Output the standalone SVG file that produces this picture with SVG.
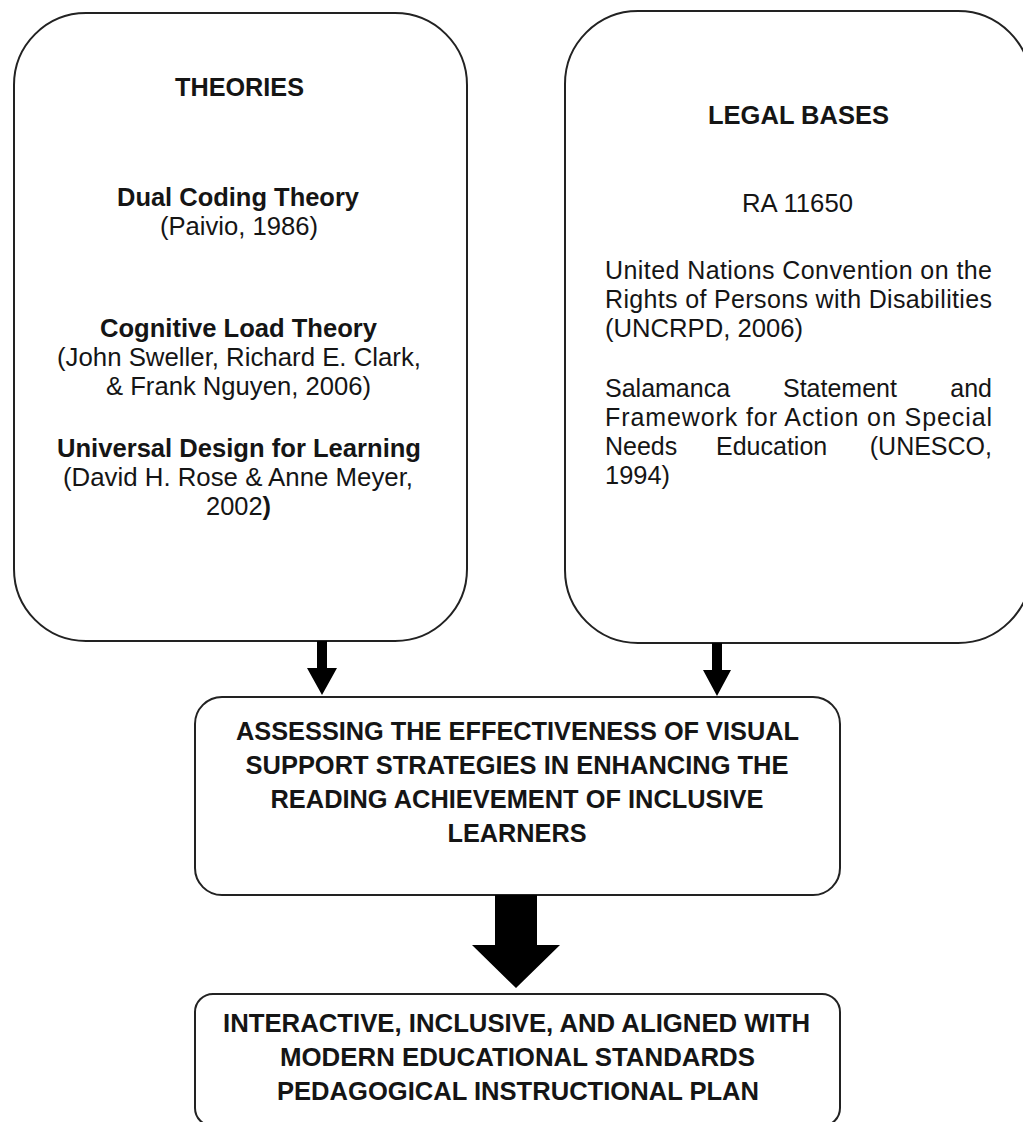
<svg xmlns="http://www.w3.org/2000/svg" width="1023" height="1122" viewBox="0 0 1023 1122">
  <style>
    .box { fill: #ffffff; stroke: #222222; stroke-width: 2; }
    .t { font-family: "Liberation Sans", Arial, sans-serif; font-size: 25px; fill: #151515; }
    .b { font-weight: bold; }
    .c { text-anchor: middle; }
    .e { text-anchor: end; }
    .arrow { fill: #000000; stroke: none; }
  </style>
  <rect width="1023" height="1122" fill="#ffffff"/>

  <g id="theories">
    <rect class="box" x="14" y="13" width="453" height="628" rx="72" ry="72"/>
    <text class="t b c" x="239.5" y="96" textLength="129" lengthAdjust="spacingAndGlyphs">THEORIES</text>
    <text class="t b c" x="238" y="206" textLength="242" lengthAdjust="spacingAndGlyphs">Dual Coding Theory</text>
    <text class="t c" x="239" y="235" textLength="158" lengthAdjust="spacingAndGlyphs">(Paivio, 1986)</text>
    <text class="t b c" x="238.5" y="337" textLength="277" lengthAdjust="spacingAndGlyphs">Cognitive Load Theory</text>
    <text class="t c" x="239" y="366" textLength="364" lengthAdjust="spacingAndGlyphs">(John Sweller, Richard E. Clark,</text>
    <text class="t c" x="238.5" y="395" textLength="265" lengthAdjust="spacingAndGlyphs">&amp; Frank Nguyen, 2006)</text>
    <text class="t b c" x="239" y="457" textLength="364" lengthAdjust="spacingAndGlyphs">Universal Design for Learning</text>
    <text class="t c" x="238" y="486" textLength="350" lengthAdjust="spacingAndGlyphs">(David H. Rose &amp; Anne Meyer,</text>
    <text class="t c" x="238.5" y="515" textLength="65" lengthAdjust="spacingAndGlyphs">2002<tspan class="b">)</tspan></text>
  </g>

  <g id="legal-bases">
    <rect class="box" x="565" y="11" width="466" height="632" rx="73" ry="73"/>
    <text class="t b c" x="798.5" y="124" textLength="181" lengthAdjust="spacingAndGlyphs">LEGAL BASES</text>
    <text class="t c" x="797.5" y="212" textLength="111" lengthAdjust="spacingAndGlyphs">RA 11650</text>
    <text class="t" x="605" y="279" textLength="387" lengthAdjust="spacing">United Nations Convention on the</text>
    <text class="t" x="605" y="308" textLength="387" lengthAdjust="spacing">Rights of Persons with Disabilities</text>
    <text class="t" x="605" y="337" textLength="198" lengthAdjust="spacingAndGlyphs">(UNCRPD, 2006)</text>
    <text class="t" x="605" y="397">Salamanca</text>
    <text class="t" x="783" y="397">Statement</text>
    <text class="t e" x="992" y="397">and</text>
    <text class="t" x="605" y="426" textLength="387" lengthAdjust="spacing">Framework for Action on Special</text>
    <text class="t" x="605" y="455">Needs</text>
    <text class="t" x="716" y="455">Education</text>
    <text class="t e" x="992" y="455">(UNESCO,</text>
    <text class="t" x="605" y="484" textLength="65" lengthAdjust="spacingAndGlyphs">1994)</text>
  </g>

  <g id="assessing">
    <rect class="box" x="195" y="697" width="645" height="198" rx="27" ry="27"/>
    <text class="t b c" x="517.5" y="740" textLength="563" lengthAdjust="spacingAndGlyphs">ASSESSING THE EFFECTIVENESS OF VISUAL</text>
    <text class="t b c" x="517" y="774" textLength="543" lengthAdjust="spacingAndGlyphs">SUPPORT STRATEGIES IN ENHANCING THE</text>
    <text class="t b c" x="517" y="808" textLength="493" lengthAdjust="spacingAndGlyphs">READING ACHIEVEMENT OF INCLUSIVE</text>
    <text class="t b c" x="517" y="842" textLength="139" lengthAdjust="spacingAndGlyphs">LEARNERS</text>
  </g>

  <g id="plan">
    <rect class="box" x="195" y="994" width="645" height="132" rx="18" ry="18"/>
    <text class="t b c" x="516.5" y="1032" textLength="587" lengthAdjust="spacingAndGlyphs">INTERACTIVE, INCLUSIVE, AND ALIGNED WITH</text>
    <text class="t b c" x="517.5" y="1066" textLength="475" lengthAdjust="spacingAndGlyphs">MODERN EDUCATIONAL STANDARDS</text>
    <text class="t b c" x="518" y="1100" textLength="482" lengthAdjust="spacingAndGlyphs">PEDAGOGICAL INSTRUCTIONAL PLAN</text>
  </g>

  <g id="connectors">
    <path class="arrow" d="M317,641 H327 V668 H337 L322,695 L307,668 H317 Z"/>
    <path class="arrow" d="M712,643 H722 V670 H731 L717,696 L703,670 H712 Z"/>
    <path class="arrow" d="M495,895 H537 V945 H560 L516,988 L472,945 H495 Z"/>
  </g>
</svg>
